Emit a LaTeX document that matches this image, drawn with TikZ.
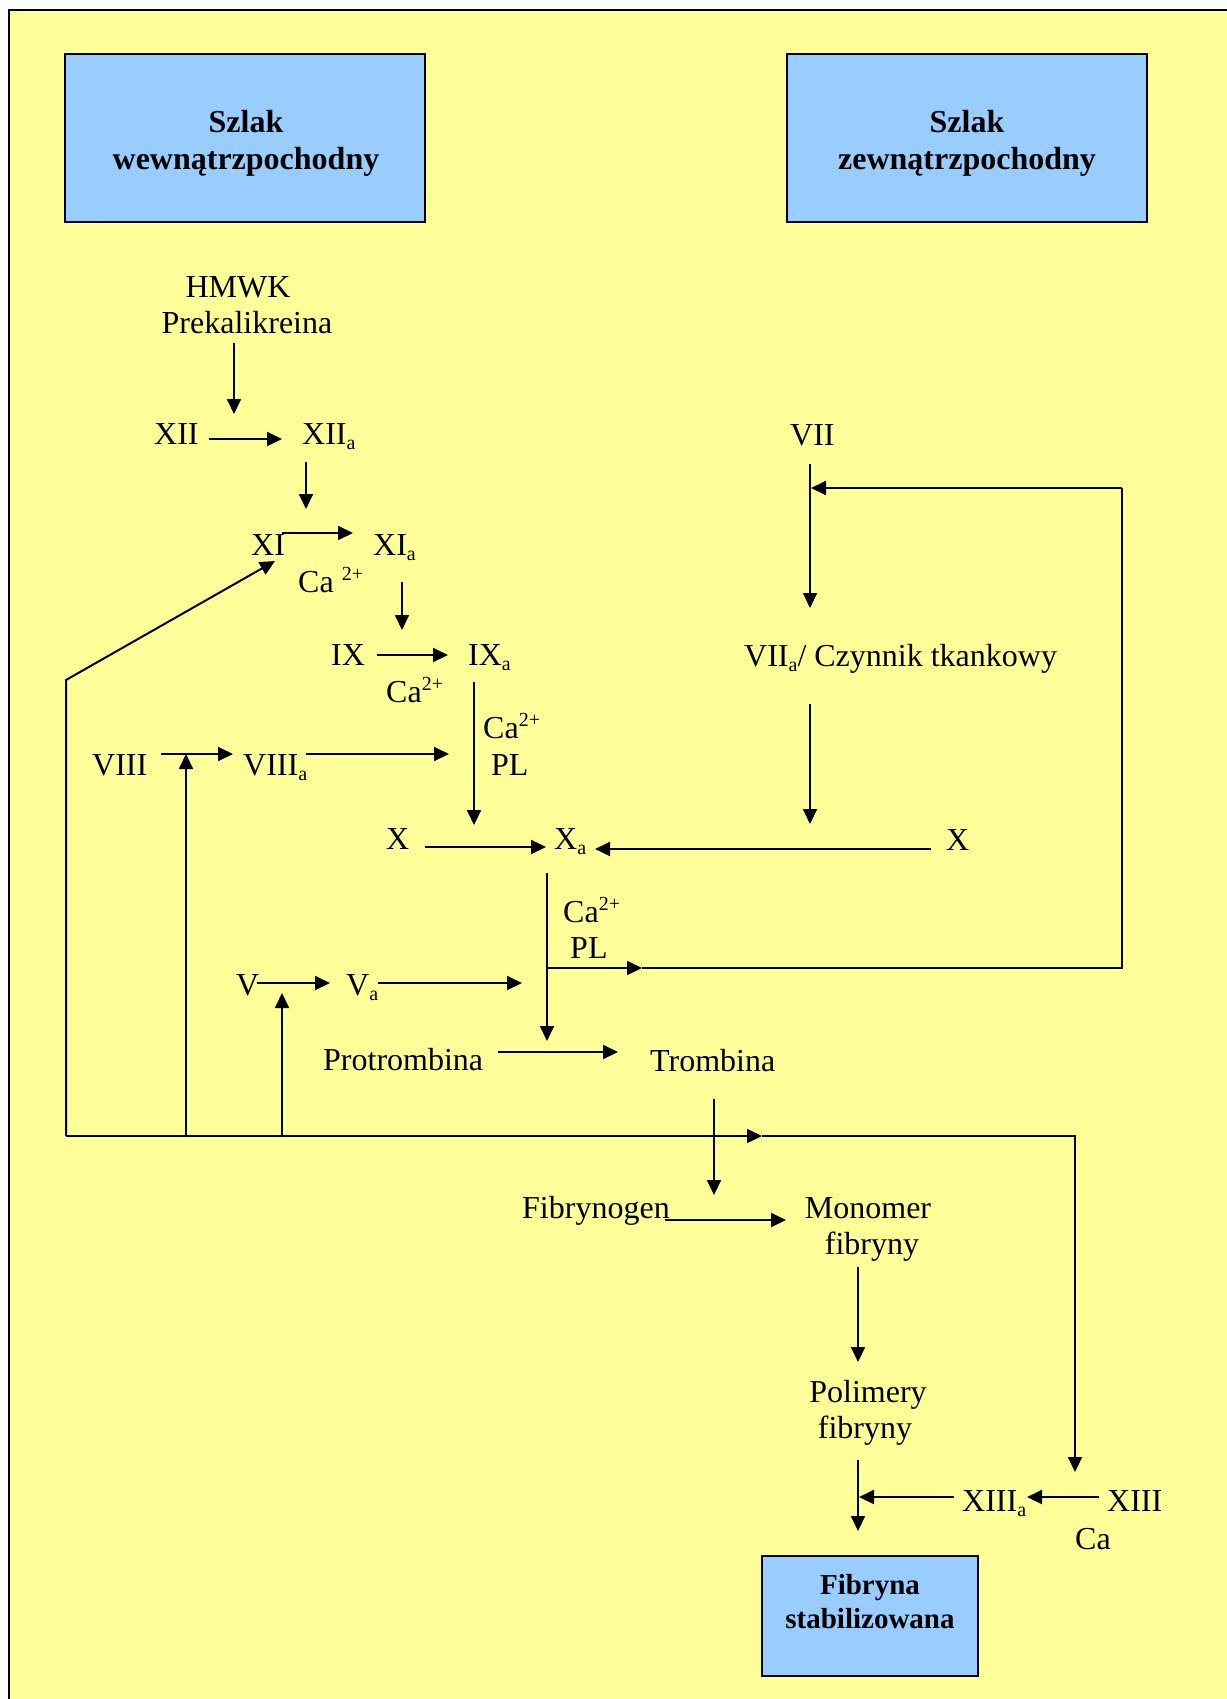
\documentclass[tikz,border=0pt]{standalone}
\usepackage{fontspec}
\setmainfont{Liberation Serif}
\usetikzlibrary{arrows.meta}
\definecolor{bgyellow}{HTML}{FFFF99}
\definecolor{boxblue}{HTML}{99CCFF}
\newcommand\mysub[1]{\raisebox{-5pt}{\fontsize{20}{20}\selectfont #1}}
\newcommand\mysup[1]{\raisebox{12pt}{\fontsize{20}{20}\selectfont #1}}
\begin{document}
\begin{tikzpicture}[x=1pt,y=-1pt,
  txt/.style={inner sep=0pt, anchor=base west, font=\fontsize{32}{38}\selectfont},
  ctxt/.style={inner sep=0pt, anchor=base, font=\fontsize{32}{38}\selectfont},
  btxt/.style={inner sep=0pt, anchor=base, font=\fontsize{32}{38}\selectfont\bfseries},
  stxt/.style={inner sep=0pt, anchor=base, font=\fontsize{29}{34}\selectfont\bfseries},
  arr/.style={line width=2pt, -{Triangle[length=15pt,width=14pt]}},
  ln/.style={line width=2pt},
  pathbox/.style={draw, line width=2pt, fill=boxblue, inner sep=0pt},
]
\useasboundingbox (0,0) rectangle (1226,1699);
\fill[bgyellow] (9,10) rectangle (1230,1703);
\draw[line width=2.4pt] (9,1703) -- (9,10) -- (1230,10);

% boxes
\node[pathbox, minimum width=360pt, minimum height=168pt] (intr) at (245,138) {};
\node[btxt] (intr1) at (246,133) {Szlak};
\node[btxt] (intr2) at (246,170) {wewnątrzpochodny};
\node[pathbox, minimum width=360pt, minimum height=168pt] (extr) at (967,138) {};
\node[btxt] (extr1) at (967,133) {Szlak};
\node[btxt] (extr2) at (967,170) {zewnątrzpochodny};
\node[pathbox, minimum width=216pt, minimum height=120pt] (fin) at (870,1616) {};
\node[stxt] (fin1) at (870,1594) {Fibryna};
\node[stxt] (fin2) at (870,1628) {stabilizowana};

% texts
\node[ctxt] (hmwk) at (238,297) {HMWK};
\node[ctxt] (prek) at (247,333) {Prekalikreina};
\node[txt] (xii) at (154,444) {XII};
\node[txt] (xiia) at (302,444) {XII\mysub{a}};
\node[txt] (xi) at (251,555) {XI};
\node[txt] (xia) at (373,555) {XI\mysub{a}};
\node[txt] (caA) at (298,592) {Ca \mysup{2+}};
\node[txt] (ix) at (331,665) {IX};
\node[txt] (ixa) at (468,665) {IX\mysub{a}};
\node[txt] (caB) at (386,702) {Ca\mysup{2+}};
\node[txt] (caC) at (483,738) {Ca\mysup{2+}};
\node[txt] (plA) at (491,775) {PL};
\node[txt] (viii) at (92,775) {VIII};
\node[txt] (viiia) at (243,775) {VIII\mysub{a}};
\node[txt] (xl) at (386,849) {X};
\node[txt] (xa) at (554,849) {X\mysub{a}};
\node[txt] (xr) at (946,850) {X};
\node[txt] (vii) at (790,445) {VII};
\node[txt] (viia) at (744,666) {VII\mysub{a}/ Czynnik tkankowy};
\node[txt] (caD) at (563,922) {Ca\mysup{2+}};
\node[txt] (plB) at (570,958) {PL};
\node[txt] (v) at (236,995) {V};
\node[txt] (va) at (346,995) {V\mysub{a}};
\node[txt] (protr) at (323,1070) {Protrombina};
\node[txt] (tromb) at (650,1071) {Trombina};
\node[txt] (fibrg) at (522,1218) {Fibrynogen};
\node[ctxt] (mono1) at (868,1218) {Monomer};
\node[ctxt] (mono2) at (872,1254) {fibryny};
\node[ctxt] (poli1) at (868,1402) {Polimery};
\node[ctxt] (poli2) at (865,1438) {fibryny};
\node[txt] (xiiia) at (962,1511) {XIII\mysub{a}};
\node[txt] (xiii) at (1107,1511) {XIII};
\node[txt] (caE) at (1075,1549) {Ca};

% connector end points
\coordinate (p1s) at (234,343);  \coordinate (p1e) at (234,414);
\coordinate (p2s) at (209,439);  \coordinate (p2e) at (282,439);
\coordinate (p3s) at (306,462);  \coordinate (p3e) at (306,509);
\coordinate (p4s) at (282,533);  \coordinate (p4e) at (353,533);
\coordinate (p5s) at (402,582);  \coordinate (p5e) at (402,630);
\coordinate (p6s) at (377,655);  \coordinate (p6e) at (448,655);
\coordinate (p7s) at (474,682);  \coordinate (p7e) at (474,825);
\coordinate (p8s) at (161,754);  \coordinate (p8e) at (233,754);
\coordinate (p9s) at (306,754);  \coordinate (p9e) at (449,754);
\coordinate (p10s) at (425,847); \coordinate (p10e) at (546,847);
\coordinate (p11s) at (931,849); \coordinate (p11e) at (595,849);
\coordinate (p12s) at (810,464); \coordinate (p12e) at (810,608);
\coordinate (p13s) at (810,704); \coordinate (p13e) at (810,824);
\coordinate (p14s) at (547,873); \coordinate (p14e) at (547,1041);
\coordinate (p15s) at (257,983); \coordinate (p15e) at (330,983);
\coordinate (p16s) at (378,983); \coordinate (p16e) at (522,983);
\coordinate (p17s) at (498,1052); \coordinate (p17e) at (618,1052);
\coordinate (p18s) at (714,1099); \coordinate (p18e) at (714,1195);
\coordinate (p19s) at (665,1220); \coordinate (p19e) at (786,1220);
\coordinate (p20s) at (858,1267); \coordinate (p20e) at (858,1362);
\coordinate (p21s) at (858,1460); \coordinate (p21e) at (858,1531);
\coordinate (p22s) at (954,1497); \coordinate (p22e) at (859,1497);
\coordinate (p23s) at (1099,1497); \coordinate (p23e) at (1027,1497);
% feedback loop to VII
\coordinate (fa0) at (547,968); \coordinate (fa1) at (642,968);
\coordinate (fa2) at (1122,968); \coordinate (fa3) at (1122,488);
\coordinate (fa4) at (811,488);
% feedback loop from thrombin
\coordinate (fb0) at (66,1136); \coordinate (fb1) at (66,680);
\coordinate (fb2) at (275,561); \coordinate (fb3) at (762,1136);
\coordinate (fb4) at (1075,1136); \coordinate (fb5) at (1075,1472);
\coordinate (fb6) at (186,1136); \coordinate (fb7) at (186,754);
\coordinate (fb8) at (282,1136); \coordinate (fb9) at (282,993);

\foreach \i in {1,...,23} \draw[arr] (p\i s) -- (p\i e);
\draw[arr] (fa0) -- (fa1);
\draw[ln] (fa1) -- (fa2) -- (fa3);
\draw[arr] (fa3) -- (fa4);
\draw[arr] (fb0) -- (fb1) -- (fb2);
\draw[arr] (fb0) -- (fb3);
\draw[arr] (fb3) -- (fb4) -- (fb5);
\draw[arr] (fb6) -- (fb7);
\draw[arr] (fb8) -- (fb9);
\end{tikzpicture}
\end{document}
